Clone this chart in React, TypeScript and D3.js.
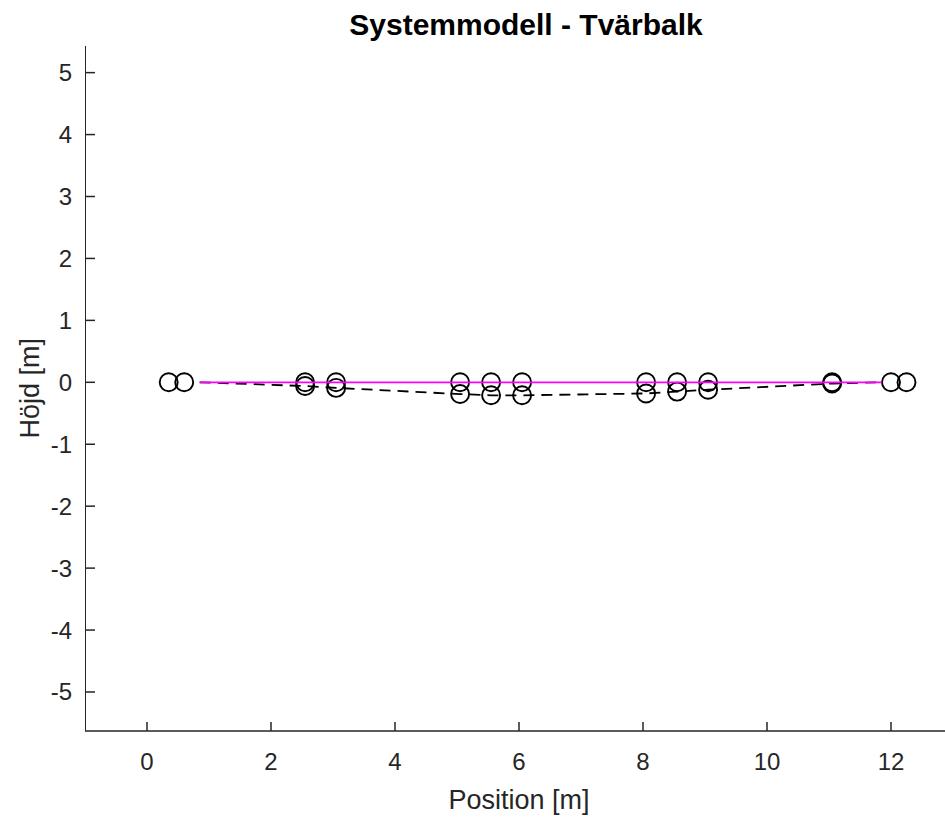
import React from "react";
import * as d3 from "d3";

// Supports (undeformed circles at y = 0)
const supportX = [0.35, 0.6, 12.0, 12.25];

// Nodes along the beam
const nodeX = [2.55, 3.05, 5.05, 5.55, 6.05, 8.05, 8.55, 9.05, 11.05];
const nodeDeformedY = [-0.06, -0.09, -0.19, -0.21, -0.21, -0.18, -0.15, -0.12, -0.02];

// Beam ends
const beamStart = 0.85;
const beamEnd = 11.85;

const xTicks = [0, 2, 4, 6, 8, 10, 12];
const yTicks = [-5, -4, -3, -2, -1, 0, 1, 2, 3, 4, 5];

const W = 945;
const H = 818;
const font = "'Liberation Sans', Arial, Helvetica, sans-serif";
const axisColor = "#262626";

const App = () => {
  const x = d3.scaleLinear().domain([-1, 13]).range([85, 953]);
  const y = d3.scaleLinear().domain([-5.63, 5.43]).range([731, 46]);

  // Dashed deformed line
  const deformed: [number, number][] = [
    [beamStart, 0],
    ...nodeX.map((v, i) => [v, nodeDeformedY[i]] as [number, number]),
    [beamEnd, 0],
  ];
  const line = d3
    .line<[number, number]>()
    .x((d) => x(d[0]))
    .y((d) => y(d[1]));

  const circles: [number, number][] = [
    ...supportX.map((v) => [v, 0] as [number, number]),
    ...nodeX.map((v) => [v, 0] as [number, number]),
    ...nodeX.map((v, i) => [v, nodeDeformedY[i]] as [number, number]),
  ];

  return (
    <svg
      width={W}
      height={H}
      style={{ display: "block", position: "absolute", left: 0, top: 0 }}
      fontFamily={font}
    >
      <rect width={W} height={H} fill="#fff" />
      <defs>
        <clipPath id="plot">
          <rect x={85} y={46} width={868} height={685} />
        </clipPath>
      </defs>

      <g clipPath="url(#plot)">
        <path d={line(deformed) || ""} fill="none" stroke="#000" strokeWidth={1.8} strokeDasharray="11,7" />
        {circles.map((d, i) => (
          <circle key={i} cx={x(d[0])} cy={y(d[1])} r={9} fill="none" stroke="#000" strokeWidth={1.9} />
        ))}
        <line x1={x(beamStart)} x2={x(beamEnd)} y1={y(0)} y2={y(0)} stroke="#ff00ff" strokeWidth={1.8} />
      </g>

      {/* axes */}
      <line x1={85.5} x2={85.5} y1={46} y2={731} stroke={axisColor} strokeWidth={1} />
      <line x1={85} x2={W} y1={731} y2={731} stroke={axisColor} strokeWidth={1.5} />

      {xTicks.map((t) => (
        <g key={t}>
          <line x1={x(t)} x2={x(t)} y1={731} y2={722} stroke={axisColor} strokeWidth={1.5} />
          <text x={x(t)} y={770} textAnchor="middle" fontSize={24} fill={axisColor}>
            {t}
          </text>
        </g>
      ))}
      {yTicks.map((t) => (
        <g key={t}>
          <line x1={85} x2={95} y1={y(t)} y2={y(t)} stroke={axisColor} strokeWidth={1.5} />
          <text x={72} y={y(t) + 8.5} textAnchor="end" fontSize={24} fill={axisColor}>
            {t}
          </text>
        </g>
      ))}

      <text x={519} y={809} textAnchor="middle" fontSize={27} fill={axisColor}>
        Position [m]
      </text>
      <text
        transform={`translate(39, ${y(0) + 6}) rotate(-90)`}
        textAnchor="middle"
        fontSize={27}
        fill={axisColor}
      >
        Höjd [m]
      </text>
      <text x={526} y={35} textAnchor="middle" fontSize={30} fontWeight="bold" fill="#000">
        Systemmodell - Tvärbalk
      </text>
    </svg>
  );
};

export default App;
